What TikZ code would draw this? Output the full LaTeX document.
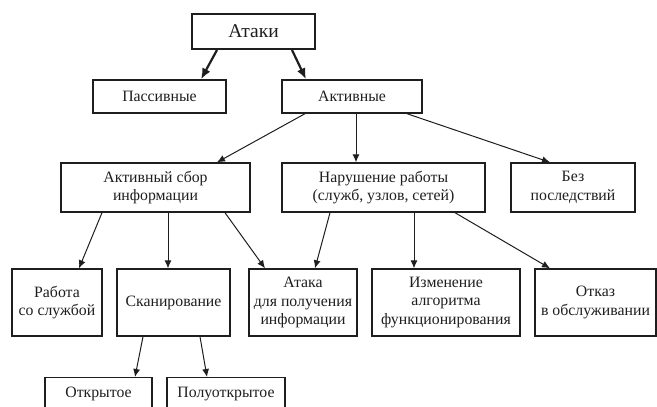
\documentclass[tikz,border=0pt]{standalone}
\usepackage{fontspec}
\setmainfont{Liberation Serif}
\usepackage{tikz}
\usetikzlibrary{arrows.meta,positioning}
\definecolor{InkGray}{RGB}{30,30,30}

\begin{document}
\begin{tikzpicture}[x=1pt,y=-1pt,>=Latex,
    box/.style={draw=InkGray,line width=1.4pt,inner sep=2pt,align=center,
      text=InkGray,font=\fontsize{15.8}{18.4}\selectfont},
    arr/.style={->,InkGray,line width=1pt,
      >={Latex[length=8pt,width=7pt]}},
    boldarr/.style={->,InkGray,line width=2.2pt,
      >={Latex[length=11pt,width=9pt]}}]
      \useasboundingbox (0,0) rectangle (657,407);
      \clip (0,0) rectangle (657,407);
      % levels
      \node[box,line width=2pt,minimum width=123pt,minimum height=35pt,
        font=\fontsize{19.5}{22}\selectfont] (attacks) at (253.5,31.5) {Атаки};
      \node[box,minimum width=133pt,minimum height=33pt] (passive) at (159.5,96.5) {Пассивные};
      \node[box,minimum width=140pt,minimum height=33pt] (active) at (352,96.5) {Активные};
      \node[box,minimum width=189pt,minimum height=49pt] (gather) at (155.5,187.5)
        {Активный сбор\\информации};
      \node[box,minimum width=203pt,minimum height=49pt] (disrupt) at (383.5,187.5)
        {Нарушение работы\\(служб, узлов, сетей)};
      \node[box,minimum width=124pt,minimum height=49pt] (noeffect) at (573,187.5)
        {Без\\последствий};
      \node[box,minimum width=90pt,minimum height=67pt] (service) at (57,302.5)
        {Работа\\со службой};
      \node[box,minimum width=113pt,minimum height=67pt] (scan) at (173.5,302.5)
        {Сканирование};
      \node[box,minimum width=108pt,minimum height=67pt] (infoatk) at (303,302.5)
        {Атака\\для получения\\информации};
      \node[box,minimum width=148pt,minimum height=67pt] (algo) at (446,302.5)
        {Изменение\\алгоритма\\функционирования};
      \node[box,minimum width=121pt,minimum height=67pt] (dos) at (595.5,302.5)
        {Отказ\\в обслуживании};
      \node[box,anchor=north,inner sep=0pt,text height=20pt,text depth=24pt,
        minimum width=107pt] (open) at (98.5,377) {Открытое};
      \node[box,anchor=north,inner sep=0pt,text height=20pt,text depth=24pt,
        minimum width=118pt] (halfopen) at (226,377) {Полуоткрытое};
      % connectors
      \draw[boldarr] ([xshift=-36.5pt]attacks.south) -- ([xshift=41.5pt]passive.north);
      \draw[boldarr] ([xshift=38.5pt]attacks.south) -- ([xshift=-46pt]active.north);
      \draw[arr] ([xshift=-47pt]active.south) -- ([xshift=61.5pt]gather.north);
      \draw[arr] ([xshift=4pt]active.south) -- ([xshift=-27.5pt]disrupt.north);
      \draw[arr] ([xshift=55pt]active.south) -- ([xshift=-23pt]noeffect.north);
      \draw[arr] ([xshift=-53.5pt]gather.south) -- ([xshift=22pt]service.north);
      \draw[arr] ([xshift=12.5pt]gather.south) -- ([xshift=-5.5pt]scan.north);
      \draw[arr] ([xshift=69.5pt]gather.south) -- ([xshift=-38pt]infoatk.north);
      \draw[arr] ([xshift=-53.5pt]disrupt.south) -- ([xshift=12pt]infoatk.north);
      \draw[arr] ([xshift=30.5pt]disrupt.south) -- ([xshift=-32pt]algo.north);
      \draw[arr] ([xshift=71.5pt]disrupt.south) -- ([xshift=-45.5pt]dos.north);
      \draw[arr] ([xshift=-30.5pt]scan.south) -- ([xshift=36.5pt]open.north);
      \draw[arr] ([xshift=26.5pt]scan.south) -- ([xshift=-19pt]halfopen.north);
    \end{tikzpicture}
\end{document}
